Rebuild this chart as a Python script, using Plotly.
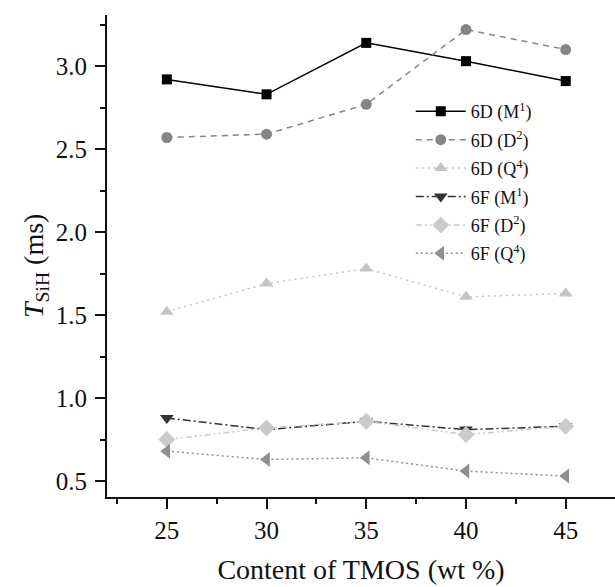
import plotly.graph_objects as go

tmos = [25, 30, 35, 40, 45]

d_m1 = [2.92, 2.83, 3.14, 3.03, 2.91]
d_d2 = [2.57, 2.59, 2.77, 3.22, 3.10]
d_q4 = [1.52, 1.69, 1.78, 1.61, 1.63]
f_m1 = [0.88, 0.81, 0.86, 0.81, 0.83]
f_d2 = [0.75, 0.82, 0.86, 0.78, 0.83]
f_q4 = [0.68, 0.63, 0.64, 0.56, 0.53]

series_names = ["6D (M<sup>1</sup>)", "6D (D<sup>2</sup>)", "6D (Q<sup>4</sup>)",
                "6F (M<sup>1</sup>)", "6F (D<sup>2</sup>)", "6F (Q<sup>4</sup>)"]
series_vals = [d_m1, d_d2, d_q4, f_m1, f_d2, f_q4]
colors = ["#000000", "#858585", "#c4c4c4", "#333333", "#cacaca", "#8f8f8f"]
symbols = ["square", "circle", "triangle-up", "triangle-down", "diamond", "triangle-left"]
sizes = [10, 11, 12, 12, 13, 13]
dashes = ["solid", "6px,5px", "2px,4px", "8px,3px,2px,3px", "6px,3px,2px,3px,2px,3px", "2px,3px"]

FONT = "Liberation Serif, Times New Roman, serif"

fig = go.Figure()
for i, (nm, vals) in enumerate(zip(series_names, series_vals)):
    fig.add_trace(go.Scatter(
        x=tmos, y=vals, name=nm, mode="lines+markers",
        line=dict(color=colors[i], width=1.5, dash=dashes[i]),
        marker=dict(symbol=symbols[i], size=sizes[i], color=colors[i], line=dict(width=0)),
        legendgroup=str(i),
    ))

fig.update_layout(
    width=615, height=587,
    margin=dict(l=107, r=0, t=15, b=90),
    paper_bgcolor="white", plot_bgcolor="white",
    font=dict(family=FONT, color="#111111"),
    showlegend=True,
    legend=dict(x=0.598, y=0.838, xanchor="left", yanchor="top",
                font=dict(family=FONT, size=18, color="#111111"),
                bgcolor="rgba(0,0,0,0)", tracegroupgap=2, itemwidth=50),
    xaxis=dict(range=[22, 47.47], tickmode="array", tickvals=[25, 30, 35, 40, 45],
               ticks="outside", ticklen=10, tickwidth=2, tickcolor="#111111",
               showline=True, linewidth=2, linecolor="#111111", mirror=False,
               showgrid=False, zeroline=False,
               tickfont=dict(size=25, family=FONT),
               minor=dict(tickvals=[22.5, 27.5, 32.5, 37.5, 42.5], ticks="outside", ticklen=5,
                          tickwidth=2, tickcolor="#111111", showgrid=False),
               title=dict(text="Content of TMOS (wt %)", font=dict(size=28, family=FONT), standoff=16)),
    yaxis=dict(range=[0.404, 3.308], tickmode="array", tickvals=[0.5, 1.0, 1.5, 2.0, 2.5, 3.0],
               ticktext=["0.5", "1.0", "1.5", "2.0", "2.5", "3.0"],
               ticks="outside", ticklen=10, tickwidth=2, tickcolor="#111111",
               showline=True, linewidth=2, linecolor="#111111", mirror=False,
               showgrid=False, zeroline=False, ticklabelstandoff=3,
               tickfont=dict(size=25, family=FONT),
               minor=dict(tickvals=[0.75, 1.25, 1.75, 2.25, 2.75, 3.25], ticks="outside", ticklen=5,
                          tickwidth=2, tickcolor="#111111", showgrid=False)),
)

fig.add_annotation(
    text="<i>T</i><sub>SiH</sub> (ms)", xref="paper", yref="paper",
    x=-0.142, y=0.479, xanchor="center", yanchor="middle", textangle=-90,
    showarrow=False, font=dict(size=28, family=FONT, color="#111111"),
)

fig.write_html("out.html")
